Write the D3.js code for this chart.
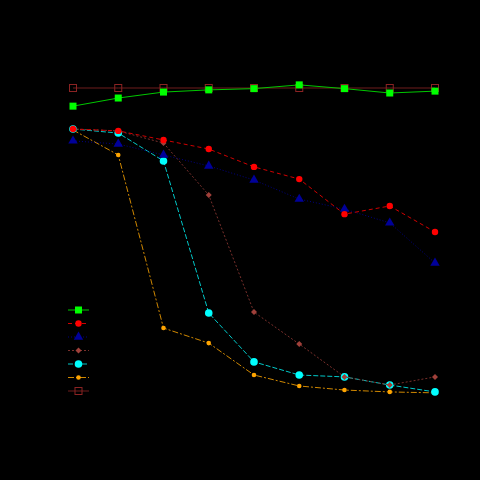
<!DOCTYPE html>
<html><head><meta charset="utf-8">
<script src="https://cdn.jsdelivr.net/npm/d3@7"></script>
<style>html,body{margin:0;padding:0;background:#000;}svg{display:block;}</style>
</head><body>
<svg id="c" width="480" height="480"></svg>
<script>
const categories = ["1","2","3","4","5","6","7","8","9"];
const seriesNames = ["A","B","C","D","E","F","G"];
const valA = [94.2,96.8,98.7,99.4,99.8,101.0,99.8,98.4,99.0];
const valB = [86.9,86.3,83.4,80.5,74.8,70.9,59.7,62.3,54.0];
const valC = [83.1,82.1,78.6,75.1,70.6,64.5,61.3,56.9,44.1];
const valD = [86.9,86.3,82.4,65.8,28.4,18.2,7.7,5.1,7.7];
const valE = [86.9,85.6,76.7,28.1,12.5,8.3,7.7,5.1,2.9];
const valF = [86.6,78.6,23.3,18.5,8.3,4.8,3.5,2.9,2.6];
const valG = [100,100,100,100,100,100,100,100,100];

const styles = [
  {color:"#00ff00", line:"#00c800", dash:null, shape:"square", size:7},
  {color:"#ff0000", line:"#d00000", dash:"4,3", shape:"circle", size:3.2},
  {color:"#000099", line:"#000080", dash:"1,2", shape:"triangle", size:8},
  {color:"#a0403a", line:"#7a302c", dash:"2,2", shape:"diamond", size:6},
  {color:"#00ffff", line:"#00c8c8", dash:"5,2", shape:"circle", size:3.8},
  {color:"#ffa500", line:"#d08800", dash:"6,2,2,2", shape:"circle", size:2.3},
  {color:"#8b2323", line:"#6e1c1c", dash:null, shape:"hollowSquare", size:7}
];
const data = [valA,valB,valC,valD,valE,valF,valG];

const svg = d3.select("#c");
svg.append("rect").attr("width",480).attr("height",480).attr("fill","#000");

const x = d3.scalePoint().domain(categories).range([73,435]);
const y = d3.scaleLinear().domain([0,100]).range([401,88]);

function drawMarker(g, st, cx, cy){
  const s = st.size;
  if(st.shape==="square"){
    g.append("rect").attr("x",cx-s/2).attr("y",cy-s/2).attr("width",s).attr("height",s).attr("fill",st.color);
  } else if(st.shape==="hollowSquare"){
    g.append("rect").attr("x",cx-s/2).attr("y",cy-s/2).attr("width",s).attr("height",s).attr("fill","none").attr("stroke",st.color).attr("stroke-width",1);
  } else if(st.shape==="circle"){
    g.append("circle").attr("cx",cx).attr("cy",cy).attr("r",s).attr("fill",st.color);
  } else if(st.shape==="triangle"){
    g.append("path").attr("d",d3.symbol(d3.symbolTriangle, s*s*0.6)()).attr("transform",`translate(${cx},${cy})`).attr("fill",st.color);
  } else if(st.shape==="diamond"){
    g.append("path").attr("d",`M${cx},${cy-s/2}L${cx+s/2},${cy}L${cx},${cy+s/2}L${cx-s/2},${cy}Z`).attr("fill",st.color);
  }
}

const line = d3.line().x((d,i)=>x(categories[i])).y(d=>y(d));
const order = [6,5,4,3,2,1,0];
order.forEach(k=>{
  const st = styles[k];
  const g = svg.append("g");
  g.append("path").attr("d",line(data[k])).attr("fill","none").attr("stroke",st.line).attr("stroke-width",1)
    .attr("stroke-dasharray",st.dash);
  data[k].forEach((v,i)=>drawMarker(g, st, x(categories[i]), y(v)));
});

const ly = d3.scaleLinear().domain([0,6]).range([310,391]);
seriesNames.forEach((n,k)=>{
  const st = styles[k];
  const g = svg.append("g");
  const yy = ly(k);
  g.append("line").attr("x1",68).attr("x2",89).attr("y1",yy).attr("y2",yy).attr("stroke",st.line).attr("stroke-width",1).attr("stroke-dasharray",st.dash);
  drawMarker(g, st, 78.5, yy);
});
</script>
</body></html>
